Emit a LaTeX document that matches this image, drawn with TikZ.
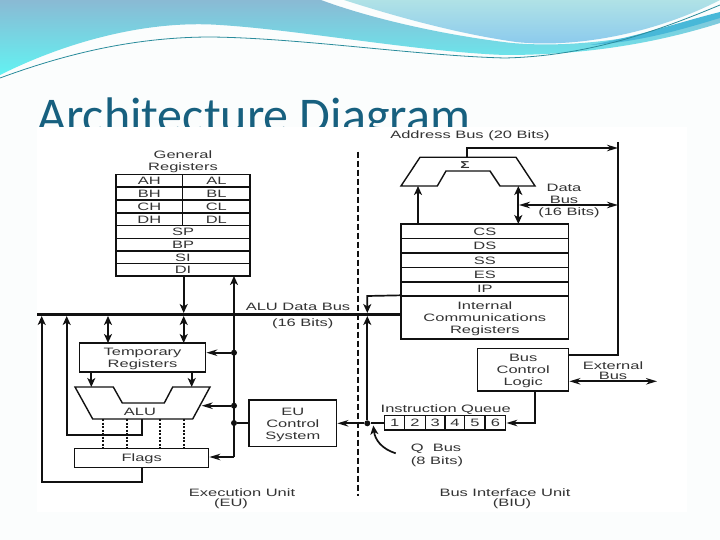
\documentclass[tikz,border=0pt]{standalone}
\usepackage{fontspec}
\setmainfont[FakeStretch=1.54]{Liberation Sans}
\newfontfamily\titlefont{Carlito}
\usetikzlibrary{arrows.meta,calc}
\definecolor{ink}{HTML}{111111}
\definecolor{txt}{HTML}{333333}
\definecolor{titleC}{HTML}{17607F}
\definecolor{waveA}{HTML}{8ABAD4}
\definecolor{waveB}{HTML}{62F2F2}
\definecolor{lensA}{HTML}{B0E2E6}
\definecolor{lensB}{HTML}{88C8EE}
\definecolor{bandC}{HTML}{48B8D8}
\definecolor{lineC}{HTML}{2A8C9C}
\definecolor{pageC}{HTML}{FBFDFD}
\tikzset{
  cell/.style={draw=ink,line width=1.35pt,fill=white,inner sep=0pt,text=txt,font=\fontsize{10.7}{12}\selectfont},
  lab/.style={inner sep=0pt,align=center,text=txt,yshift=-1.5pt,font=\fontsize{10.7}{12}\selectfont},
  wire/.style={draw=ink,line width=1.7pt},
  vtip/.style={wire,-{Stealth[length=9pt,width=8pt,inset=2.5pt]}},
  vdbl/.style={wire,{Stealth[length=9pt,width=8pt,inset=2.5pt]}-{Stealth[length=9pt,width=8pt,inset=2.5pt]}},
  htip/.style={wire,-{Stealth[length=11pt,width=6.5pt,inset=3.5pt]}},
  hdbl/.style={wire,{Stealth[length=11pt,width=6.5pt,inset=3.5pt]}-{Stealth[length=11pt,width=6.5pt,inset=3.5pt]}},
  jdot/.style={circle,fill=ink,inner sep=0pt,minimum size=6pt},
  mainbus/.style={draw=ink,line width=3pt},
}
\newcommand{\cellbox}[6]{\node[cell,minimum width={(#4-#2)*1pt},minimum height={(#5-#3)*1pt}] (#1) at ({(#2+#4)/2},{(#3+#5)/2}) {\raisebox{-1.5pt}[\height][\depth]{\begin{tabular}{@{}c@{}}#6\end{tabular}}};}
\begin{document}
\begin{tikzpicture}[x=1pt,y=-1pt]
\useasboundingbox (0,0) rectangle (720,540);
\fill[pageC] (0,0) rectangle (720,540);
% header waves
\shade[top color=waveA,bottom color=waveB]
  (0,0) -- (321,0) .. controls (375,20) and (450,36) .. (512,43)
  .. controls (570,48) and (640,40) .. (720,16) -- (720,23)
  .. controls (660,42) and (590,55) .. (505,55)
  .. controls (420,52) and (300,30) .. (220,25)
  .. controls (150,20) and (70,40) .. (0,75) -- cycle;
\shade[top color=lensA,bottom color=lensB]
  (344,0) .. controls (400,18) and (460,34) .. (516,42)
  .. controls (570,48) and (650,36) .. (720,0) -- cycle;
\fill[bandC] (590,45) .. controls (640,36) and (680,22) .. (720,12) -- (720,18) .. controls (680,30) and (640,42) .. (590,45) -- cycle;
\draw[lineC,line width=.8pt] (0,78) .. controls (60,56) and (130,37) .. (211,37)
  .. controls (300,38) and (420,56) .. (505,58)
  .. controls (590,56) and (660,30) .. (720,5);
% title, cut by the white picture below it
\node[anchor=base west,inner sep=0pt,text=titleC,font=\titlefont\fontsize{50}{56}\selectfont] (title) at (37,133) {Architecture Diagram};
\fill[white] (37,127) rectangle (687,512);
% general registers
\node[lab] (gen) at (183,160.5) {General\\Registers};
\cellbox{ah}{116}{174.3}{182.7}{187}{AH}
\cellbox{al}{182.7}{174.3}{250}{187}{AL}
\cellbox{bh}{116}{187}{182.7}{200}{BH}
\cellbox{bl}{182.7}{187}{250}{200}{BL}
\cellbox{ch}{116}{200}{182.7}{213}{CH}
\cellbox{cl}{182.7}{200}{250}{213}{CL}
\cellbox{dh}{116}{213}{182.7}{225.7}{DH}
\cellbox{dl}{182.7}{213}{250}{225.7}{DL}
\cellbox{sp}{116}{225.7}{250}{238.5}{SP}
\cellbox{bp}{116}{238.5}{250}{251}{BP}
\cellbox{si}{116}{251}{250}{263.5}{SI}
\cellbox{di}{116}{263.5}{250}{276}{DI}
% segment registers
\cellbox{cs}{401}{224}{568.7}{238.3}{CS}
\cellbox{ds}{401}{238.3}{568.7}{253}{DS}
\cellbox{ss}{401}{253}{568.7}{267.3}{SS}
\cellbox{es}{401}{267.3}{568.7}{282}{ES}
\cellbox{ip}{401}{282}{568.7}{296}{IP}
\cellbox{icr}{401}{296}{568.7}{339}{Internal\\Communications\\Registers}
\cellbox{bcl}{477.7}{348.3}{568.7}{391}{Bus\\Control\\Logic}
% EU boxes
\cellbox{temp}{79.3}{343}{205.7}{372}{Temporary\\Registers}
\cellbox{flags}{74.7}{448.3}{208.7}{467.7}{Flags}
\cellbox{eucs}{249}{400}{336.7}{446.7}{EU\\Control\\System}
% queue
\cellbox{q1}{384.7}{415.7}{404.7}{430}{1}
\cellbox{q2}{404.7}{415.7}{425.3}{430}{2}
\cellbox{q3}{425.3}{415.7}{445}{430}{3}
\cellbox{q4}{445}{415.7}{464.7}{430}{4}
\cellbox{q5}{464.7}{415.7}{485}{430}{5}
\cellbox{q6}{485}{415.7}{505.7}{430}{6}
% ALU and adder
\draw[wire,fill=white,line width=1.4pt] (75,387) -- (113.3,387) -- (122.3,403) -- (164.3,403) -- (172.7,387) -- (210,387) -- (192.7,419) -- (92.7,419) -- cycle;
\node[lab] (alu) at (140,410.7) {ALU};
\draw[wire,fill=white,line width=1.4pt] (401,186) -- (420,157.3) -- (516,157.3) -- (535,186) -- (500,186) -- (490,171) -- (446,171) -- (437.3,186) -- cycle;
\node[lab,font=\bfseries\fontsize{10}{12}\selectfont] (sigma) at (465,164) {Σ};
% junctions and free ends
\coordinate (busL) at (37,314.5);
\coordinate (busM) at (234,314.5);
\coordinate (busQ) at (367.3,314.5);
\coordinate (flagTap) at (234,457);
\coordinate (extTop) at (618,142);
\coordinate (extCorner) at (618,355);
\coordinate (addrOut) at (618,148);
\coordinate (addrFrom) at (467.3,157.3);
\coordinate (dataR) at (618,205);
\coordinate (dataL) at (519,205);
\coordinate (extEnd) at (657,381.3);
\coordinate (aluB) at (142,419);
\coordinate (flagB) at (142,467.7);
\node[jdot] (jt) at (234,352.7) {};
\node[jdot] (ja) at (234,405.7) {};
\node[jdot] (je) at (234,423) {};
\node[jdot] (jq) at (367.3,423.3) {};
% buses
\draw[mainbus] (busL) -- (icr.west |- busL);
\draw[wire] (flagTap) -- (busM);
\draw[draw=ink,dash pattern=on 6pt off 3pt,line width=1.8pt] (358.3,151.7) -- (358.3,496);
% registers to bus
\draw[vtip] (183.7,276) -- (183.7,313);
\draw[vtip] (busM) -- (234,276);
\draw[vdbl] (183.7,316) -- (183.7,343);
\draw[vdbl] (108,316) -- (108,343);
\draw[vtip] (91.3,372) -- (91.3,387);
\draw[vtip] (191.7,372) -- (191.7,387);
\draw[vtip] (aluB) -- (142,435) -- (66.7,435) -- (66.7,316);
\draw[vtip] (flagB) -- (142,482) -- (41.7,482) -- (41.7,316);
% ALU to flags
\foreach \xx in {102.7,127,160.3,183.7}
  \draw[draw=ink,line width=1.8pt,dash pattern=on 2pt off 1.5pt] (\xx,419) -- (\xx,448);
% control
\draw[htip] (jt) -- (temp.east |- jt);
\draw[htip] (ja) -- (201.7,405.7);
\draw[wire] (je) -- (eucs.west |- je);
\draw[htip] (flagTap) -- (flags.east |- flagTap);
\draw[htip] (jq) -- (eucs.east |- jq);
\draw[vtip] (jq) -- (busQ |- 0,316);
\draw[wire] (jq) -- (q1.west |- jq);
\draw[vtip] (icr.north west) -- (367.3,296) -- (367.3,313);
% BIU
\draw[vtip] (418,224) -- (418,186);
\draw[vdbl] (518.3,224) -- (518.3,186);
\draw[htip] (addrFrom) -- (467.3,148) -- (addrOut);
\draw[wire] (extTop) -- (extCorner) -- (bcl.east |- extCorner);
\draw[hdbl] (dataL) -- (dataR);
\draw[hdbl] (bcl.east |- extEnd) -- (extEnd);
\draw[htip] (534.7,391) -- (534.7,423) -- (q6.east |- 0,423);
\draw[vtip] (395.7,453.3) .. controls (382,449) and (375,440) .. (373.3,425.5);
% labels
\node[lab] (lbus) at (298,305) {ALU Data Bus};
\node[lab] (lbits) at (302.7,322) {(16 Bits)};
\node[lab] (laddr) at (470,134) {Address Bus (20 Bits)};
\node[lab] (ldata) at (564,186.5) {Data};
\node[lab] (ldbus) at (564,198) {Bus};
\node[lab] (ldbits) at (569,211.5) {(16 Bits)};
\node[lab] (lext) at (613,364) {External};
\node[lab] (lextb) at (613,374.5) {Bus};
\node[lab] (liq) at (445.7,408.3) {Instruction Queue};
\node[lab] (lq) at (436,447) {Q\ \ Bus};
\node[lab] (lqb) at (437,460) {(8 Bits)};
\node[lab] (leu) at (242,491) {Execution Unit};
\node[lab] (leu2) at (231,502.5) {(EU)};
\node[lab] (lbiu) at (505,491) {Bus Interface Unit};
\node[lab] (lbiu2) at (512,502.5) {(BIU)};
\end{tikzpicture}
\end{document}
